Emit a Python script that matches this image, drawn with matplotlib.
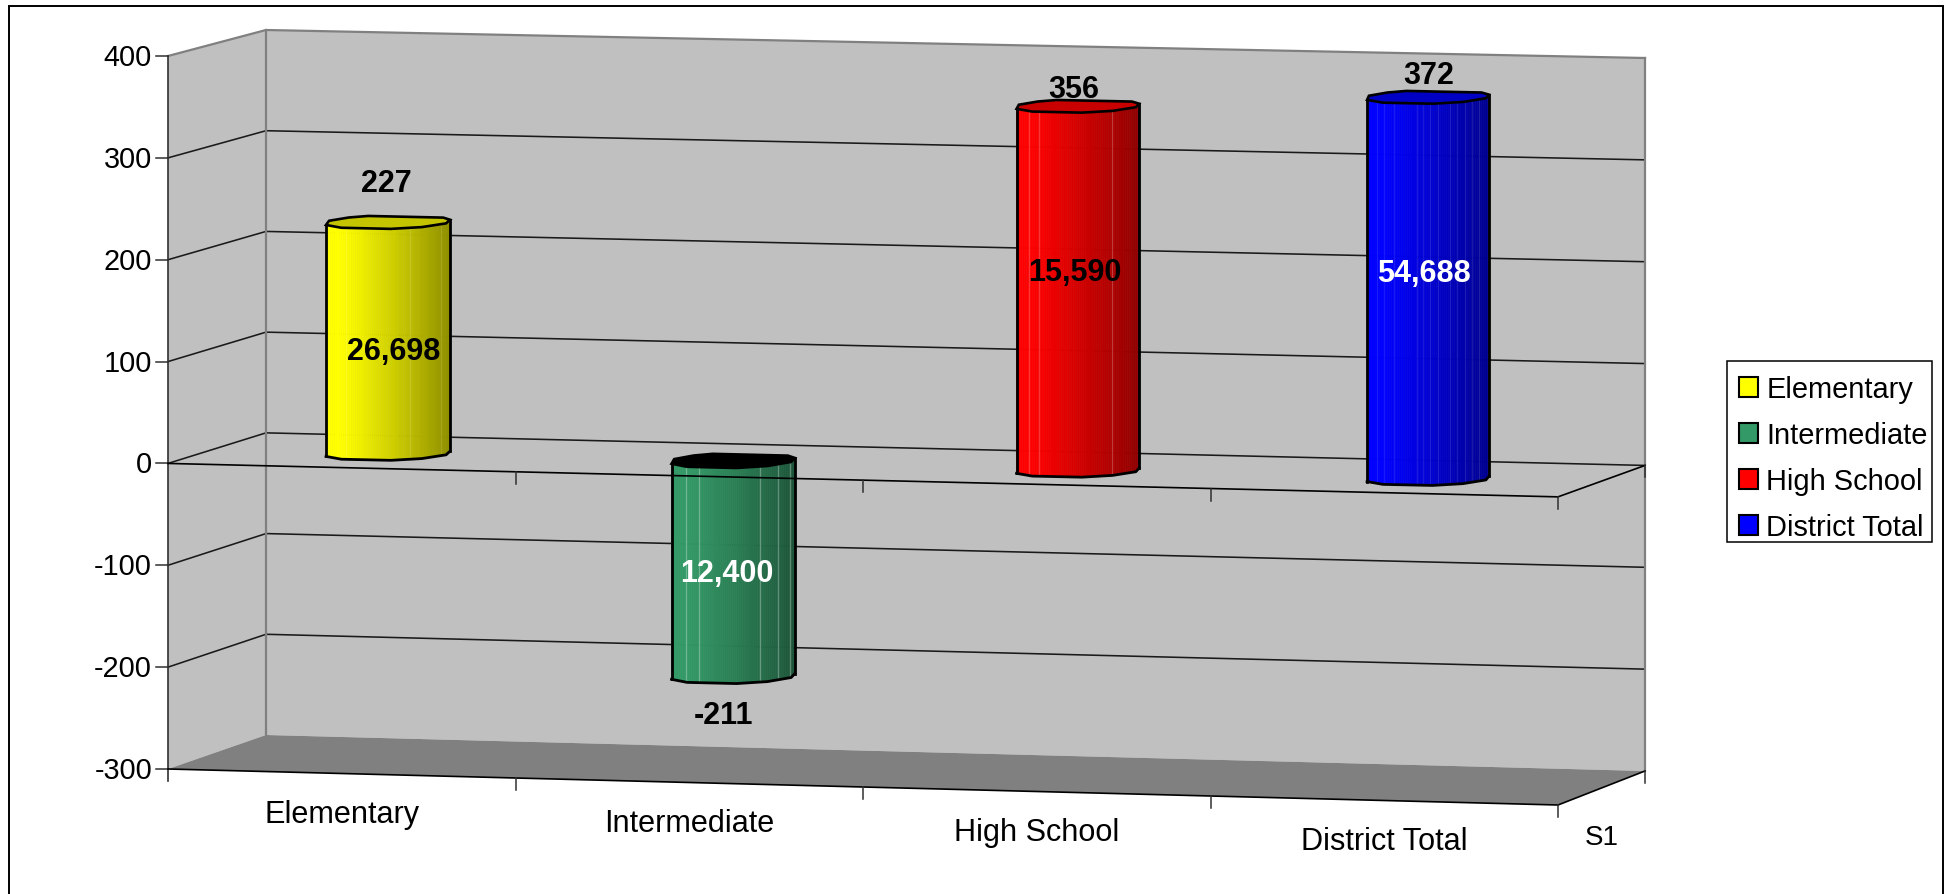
import numpy as np
import matplotlib
matplotlib.use("Agg")
import matplotlib.pyplot as plt
from matplotlib.patches import Patch, Polygon, Rectangle

plt.rcParams["font.family"] = ["Liberation Sans", "DejaVu Sans"]

CATEGORIES = ["Elementary", "Intermediate", "High School", "District Total"]
VALUES = [227, -211, 356, 372]
ENROLLMENT = ["26,698", "12,400", "15,590", "54,688"]
Y_TICKS = [400, 300, 200, 100, 0, -100, -200, -300]
SERIES_LABEL = "S1"

COLORS = ["#FFFF00", "#339966", "#FF0000", "#0000FF"]
CAP_COLORS = ["#C4C400", "#000000", "#C80000", "#0000C4"]
ENROLL_TEXT = ["black", "white", "black", "white"]
# px nudges of each bar and of the two labels on it
BAR_NUDGE = [-2.5, -3.5, -5, -1]
VALUE_OFFSETS = [(-1, -39), (-9, 40), (-4, -17), (1, -22)]
ENROLL_OFFSETS = [(6, 14), (-6, 5), (-2, -15), (-3, -14)]
# pale seams between facets, as a fraction of the bar width
SEAMS = [
    [0.16, 0.68, 0.93],
    [0.12, 0.22, 0.72, 0.86, 0.96],
    [0.10, 0.18, 0.78],
    [0.08, 0.14, 0.22, 0.41, 0.46, 0.52, 0.58, 0.68, 0.74, 0.80, 0.86, 0.92],
]
SEAM_ALPHA = [0.12, 0.30, 0.22, 0.10]

WALL = "#C0C0C0"
FLOOR = "#808080"
V_MIN, V_MAX = -300, 400
N_CATS = len(CATEGORIES)

# pixel position of the plot box corners: (x, y at V_MIN, y at V_MAX)
FRONT_LEFT = (168, 770, 57)
FRONT_RIGHT = (1558, 806, 87)
BACK_LEFT = (266, 736, 31)
BACK_RIGHT = (1645, 772, 59)

# angles of the cylinder facets, measured from the front of the base
FACET_ANGLES = np.radians([25, 55, 90, 120, 140, 220, 240, 270, 305, 335])
RADIUS_U = 0.169
RADIUS_D = 0.245


def project(u, v, d=0.0):
    """Category position u, value v, depth d (0 front, 1 back) to pixels."""
    su = u / N_CATS
    sv = (v - V_MIN) / (V_MAX - V_MIN)
    corners = [FRONT_LEFT, FRONT_RIGHT, BACK_LEFT, BACK_RIGHT]
    weights = [(1 - su) * (1 - d), su * (1 - d), (1 - su) * d, su * d]
    x = sum(w * c[0] for w, c in zip(weights, corners))
    y = sum(w * (c[1] + sv * (c[2] - c[1])) for w, c in zip(weights, corners))
    return x, y


def quad(*points):
    return np.array(points, dtype=float)


def shade(color, t):
    # plain colour on the lit side, falling off towards the right edge
    rgb = np.array(matplotlib.colors.to_rgb(color))
    k = 1.0 - 0.44 * np.clip((t - 0.12) / 0.88, 0, 1) ** 1.15
    return rgb * k


def ring(u, v, nudge):
    pts = []
    for a in FACET_ANGLES:
        x, y = project(u + RADIUS_U * np.sin(a), v, 0.5 - RADIUS_D * np.cos(a))
        pts.append((x + nudge, y))
    return np.array(pts)


def front_walk(pts):
    """Ring points from leftmost to rightmost by way of the front."""
    left = int(np.argmin(pts[:, 0]))
    right = int(np.argmax(pts[:, 0]))
    order = list(range(len(pts)))
    start = order.index(right)
    order = order[start:] + order[:start]
    # the ring runs right -> back -> left -> front, so take the tail
    pos = order.index(left)
    return pts[order[pos:] + [right]]


def densify(path, step=2.0):
    out = [path[0]]
    for a, b in zip(path[:-1], path[1:]):
        n = max(int(np.hypot(*(b - a)) / step), 1)
        for i in range(1, n + 1):
            out.append(a + (b - a) * i / n)
    return np.array(out)


def draw_walls(ax):
    left = quad(project(0, V_MIN), project(0, V_MAX), project(0, V_MAX, 1), project(0, V_MIN, 1))
    back = quad(project(0, V_MIN, 1), project(0, V_MAX, 1), project(N_CATS, V_MAX, 1), project(N_CATS, V_MIN, 1))
    floor = quad(project(0, V_MIN), project(N_CATS, V_MIN), project(N_CATS, V_MIN, 1), project(0, V_MIN, 1))
    ax.add_patch(Polygon(left, facecolor=WALL, edgecolor="none"))
    ax.add_patch(Polygon(back, facecolor=WALL, edgecolor="none"))
    ax.add_patch(Polygon(floor, facecolor=FLOOR, edgecolor="none"))

    for val in Y_TICKS:
        if val in (V_MIN, V_MAX):
            continue
        line = np.array([project(0, val), project(0, val, 1), project(N_CATS, val, 1)])
        ax.plot(line[:, 0], line[:, 1], color="#1a1a1a", lw=1.15, zorder=2)

    # gray edges of the box
    edge = np.array([project(0, V_MAX), project(0, V_MAX, 1), project(N_CATS, V_MAX, 1)])
    ax.plot(edge[:, 0], edge[:, 1], color=FLOOR, lw=1.6, zorder=2)
    for u in (0, N_CATS):
        p = np.array([project(u, V_MIN, 1), project(u, V_MAX, 1)])
        ax.plot(p[:, 0], p[:, 1], color=FLOOR, lw=1.6, zorder=2)


def draw_bar(ax, i, value):
    u = i + 0.5
    top_v, base_v = max(value, 0), min(value, 0)
    color = COLORS[i]
    nudge = BAR_NUDGE[i]
    top = ring(u, top_v, nudge)
    # side walls as narrow strips so the shading runs left to right
    path_top = densify(front_walk(top))
    offset = np.array(project(u, base_v)) - np.array(project(u, top_v))
    x0, x1 = path_top[:, 0].min(), path_top[:, 0].max()
    for a, b in zip(path_top[:-1], path_top[1:]):
        t = ((a[0] + b[0]) / 2 - x0) / (x1 - x0)
        strip = quad(a, b, b + offset, a + offset)
        ax.add_patch(Polygon(strip, facecolor=shade(color, t), edgecolor=shade(color, t), lw=0.4, zorder=3))
    for s in SEAMS[i]:
        x = x0 + s * (x1 - x0)
        yt = np.interp(x, path_top[:, 0], path_top[:, 1])
        ax.plot([x, x], [yt, yt + offset[1]], color="white", alpha=SEAM_ALPHA[i], lw=0.9, zorder=3.2)
    # outline
    for p in (path_top[0], path_top[-1]):
        ax.plot([p[0], p[0] + offset[0]], [p[1], p[1] + offset[1]], color="black", lw=2.0, zorder=4)
    ax.plot(path_top[:, 0] + offset[0], path_top[:, 1] + offset[1], color="black", lw=2.0, zorder=4)
    ax.add_patch(Polygon(top, facecolor=CAP_COLORS[i], edgecolor="black", lw=1.9, zorder=4))

    # value above (or below) the cylinder, enrollment on it
    cx, cy = project(u, value, 0.5)
    dx, dy = VALUE_OFFSETS[i]
    ax.text(cx + nudge + dx, cy + dy, f"{value}", ha="center", va="center", fontsize=22, fontweight="bold", color="black", zorder=6)
    mx, my = project(u, value / 2, 0.5)
    dx, dy = ENROLL_OFFSETS[i]
    ax.text(mx + nudge + dx, my + dy, ENROLLMENT[i], ha="center", va="center", fontsize=22, fontweight="bold", color=ENROLL_TEXT[i], zorder=6)


def draw_axes(ax):
    # value axis, drawn on the front left corner
    ax.plot([168, 168], [project(0, V_MAX)[1], project(0, V_MIN)[1] + 12], color="#303030", lw=1.2, zorder=5)
    for val in Y_TICKS:
        x, y = project(0, val)
        ax.plot([x - 12, x], [y, y], color="#303030", lw=1.1, zorder=5)
        ax.text(x - 16, y + 1, f"{val}", ha="right", va="center", fontsize=20.8, color="black")

    # category edges on the zero plane and on the floor
    for level in (0, V_MIN):
        front = np.array([project(0, level), project(N_CATS, level)])
        ax.plot(front[:, 0], front[:, 1], color="black", lw=1.2, zorder=5)
        side = np.array([project(N_CATS, level), project(N_CATS, level, 1)])
        ax.plot(side[:, 0], side[:, 1], color="black", lw=1.2, zorder=5)
        for u in range(1, N_CATS + 1):
            x, y = project(u, level)
            ax.plot([x, x], [y, y + 12], color="#303030", lw=1.1, zorder=5)
        x, y = project(N_CATS, level, 1)
        ax.plot([x, x], [y, y + 12], color="#303030", lw=1.1, zorder=5)

    for i, name in enumerate(CATEGORIES):
        x, y = project(i + 0.5, V_MIN)
        ax.text(x, y + 41, name, ha="center", va="center", fontsize=22.1, color="black")
    x, y = project(N_CATS, V_MIN, 0.5)
    ax.text(x, y + 49, SERIES_LABEL, ha="center", va="center", fontsize=20, color="black")


def main():
    fig = plt.figure(figsize=(19.48, 8.95), dpi=100)
    ax = fig.add_axes([0, 0, 1, 1])
    ax.set_xlim(0, 1948)
    ax.set_ylim(895, 0)
    ax.axis("off")

    # chart area border, open at the bottom of the canvas
    ax.add_patch(Rectangle((9, 7), 1934, 920, facecolor="white", edgecolor="black", lw=1.4, zorder=0, clip_on=True))

    draw_walls(ax)
    for i, value in enumerate(VALUES):
        draw_bar(ax, i, value)
    draw_axes(ax)

    # legend box is drawn apart from the entries to keep its uneven padding
    ax.add_patch(Rectangle((1727, 362), 205, 181, facecolor="white", edgecolor="black", lw=1.1, zorder=6.5))
    handles = [Patch(facecolor=c, edgecolor="black", lw=1.5) for c in COLORS]
    leg = ax.legend(handles, CATEGORIES, loc="upper left", bbox_to_anchor=(1739, 376), bbox_transform=ax.transData,
                    fontsize=20.9, frameon=False, handlelength=0.66, handleheight=0.66, handletextpad=0.28,
                    labelspacing=0.62, borderpad=0, borderaxespad=0)
    leg.set_zorder(7)

    fig.savefig("out.png", dpi=100, facecolor="white")
    plt.close(fig)


if __name__ == "__main__":
    main()
